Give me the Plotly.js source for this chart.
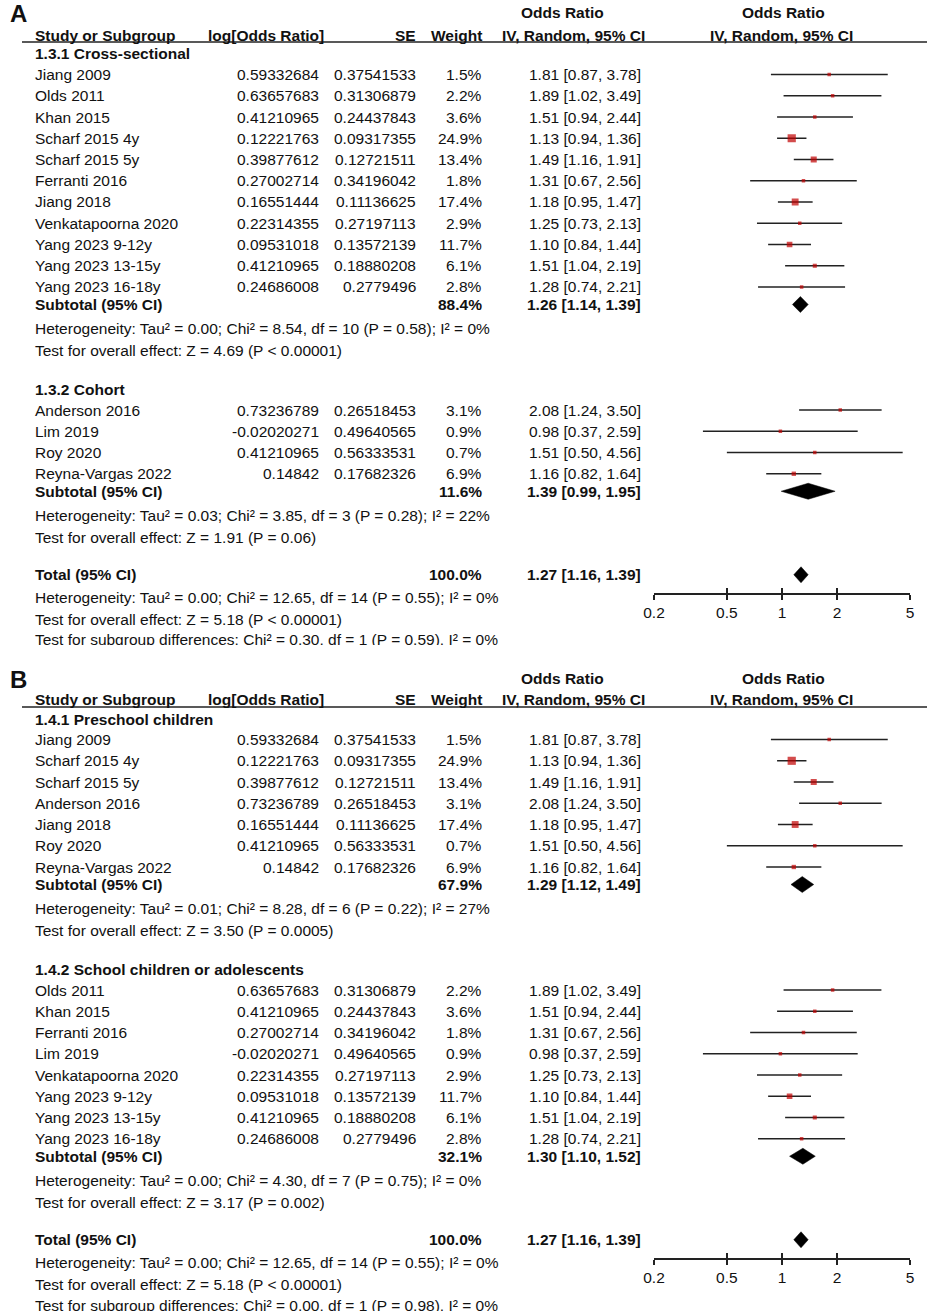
<!DOCTYPE html>
<html><head><meta charset="utf-8">
<script src="https://cdn.plot.ly/plotly-3.0.1.min.js"></script>
<style>html,body{margin:0;padding:0;background:#fff}</style>
</head><body><div id="chart" style="width:927px;height:1311px"></div>
<script>
// ================= DATA =================
// Panel A
const aLabel = "A";
const a1Title = "1.3.1 Cross-sectional";
const a1Study = ["Jiang 2009","Olds 2011","Khan 2015","Scharf 2015 4y","Scharf 2015 5y","Ferranti 2016","Jiang 2018","Venkatapoorna 2020","Yang 2023 9-12y","Yang 2023 13-15y","Yang 2023 16-18y"];
const a1LogOR = [0.59332684,0.63657683,0.41210965,0.12221763,0.39877612,0.27002714,0.16551444,0.22314355,0.09531018,0.41210965,0.24686008];
const a1SE = [0.37541533,0.31306879,0.24437843,0.09317355,0.12721511,0.34196042,0.11136625,0.27197113,0.13572139,0.18880208,0.2779496];
const a1Weight = [1.5,2.2,3.6,24.9,13.4,1.8,17.4,2.9,11.7,6.1,2.8];
const a1OR = [1.81,1.89,1.51,1.13,1.49,1.31,1.18,1.25,1.10,1.51,1.28];
const a1Lo = [0.87,1.02,0.94,0.94,1.16,0.67,0.95,0.73,0.84,1.04,0.74];
const a1Hi = [3.78,3.49,2.44,1.36,1.91,2.56,1.47,2.13,1.44,2.19,2.21];
const a1Subtotal = [88.4, 1.26, 1.14, 1.39]; // weight, OR, lower, upper
const a1Het = "Heterogeneity: Tau² = 0.00; Chi² = 8.54, df = 10 (P = 0.58); I² = 0%";
const a1Test = "Test for overall effect: Z = 4.69 (P < 0.00001)";

const a2Title = "1.3.2 Cohort";
const a2Study = ["Anderson 2016","Lim 2019","Roy 2020","Reyna-Vargas 2022"];
const a2LogOR = [0.73236789,-0.02020271,0.41210965,0.14842];
const a2SE = [0.26518453,0.49640565,0.56333531,0.17682326];
const a2Weight = [3.1,0.9,0.7,6.9];
const a2OR = [2.08,0.98,1.51,1.16];
const a2Lo = [1.24,0.37,0.50,0.82];
const a2Hi = [3.50,2.59,4.56,1.64];
const a2Subtotal = [11.6, 1.39, 0.99, 1.95];
const a2Het = "Heterogeneity: Tau² = 0.03; Chi² = 3.85, df = 3 (P = 0.28); I² = 22%";
const a2Test = "Test for overall effect: Z = 1.91 (P = 0.06)";

const aTotal = [100.0, 1.27, 1.16, 1.39];
const aTotalHet = "Heterogeneity: Tau² = 0.00; Chi² = 12.65, df = 14 (P = 0.55); I² = 0%";
const aTotalTest = "Test for overall effect: Z = 5.18 (P < 0.00001)";
const aSubgroupDiff = "Test for subgroup differences: Chi² = 0.30, df = 1 (P = 0.59), I² = 0%";

// Panel B
const bLabel = "B";
const b1Title = "1.4.1 Preschool children";
const b1Study = ["Jiang 2009","Scharf 2015 4y","Scharf 2015 5y","Anderson 2016","Jiang 2018","Roy 2020","Reyna-Vargas 2022"];
const b1LogOR = [0.59332684,0.12221763,0.39877612,0.73236789,0.16551444,0.41210965,0.14842];
const b1SE = [0.37541533,0.09317355,0.12721511,0.26518453,0.11136625,0.56333531,0.17682326];
const b1Weight = [1.5,24.9,13.4,3.1,17.4,0.7,6.9];
const b1OR = [1.81,1.13,1.49,2.08,1.18,1.51,1.16];
const b1Lo = [0.87,0.94,1.16,1.24,0.95,0.50,0.82];
const b1Hi = [3.78,1.36,1.91,3.50,1.47,4.56,1.64];
const b1Subtotal = [67.9, 1.29, 1.12, 1.49];
const b1Het = "Heterogeneity: Tau² = 0.01; Chi² = 8.28, df = 6 (P = 0.22); I² = 27%";
const b1Test = "Test for overall effect: Z = 3.50 (P = 0.0005)";

const b2Title = "1.4.2 School children or adolescents";
const b2Study = ["Olds 2011","Khan 2015","Ferranti 2016","Lim 2019","Venkatapoorna 2020","Yang 2023 9-12y","Yang 2023 13-15y","Yang 2023 16-18y"];
const b2LogOR = [0.63657683,0.41210965,0.27002714,-0.02020271,0.22314355,0.09531018,0.41210965,0.24686008];
const b2SE = [0.31306879,0.24437843,0.34196042,0.49640565,0.27197113,0.13572139,0.18880208,0.2779496];
const b2Weight = [2.2,3.6,1.8,0.9,2.9,11.7,6.1,2.8];
const b2OR = [1.89,1.51,1.31,0.98,1.25,1.10,1.51,1.28];
const b2Lo = [1.02,0.94,0.67,0.37,0.73,0.84,1.04,0.74];
const b2Hi = [3.49,2.44,2.56,2.59,2.13,1.44,2.19,2.21];
const b2Subtotal = [32.1, 1.30, 1.10, 1.52];
const b2Het = "Heterogeneity: Tau² = 0.00; Chi² = 4.30, df = 7 (P = 0.75); I² = 0%";
const b2Test = "Test for overall effect: Z = 3.17 (P = 0.002)";

const bTotal = [100.0, 1.27, 1.16, 1.39];
const bTotalHet = "Heterogeneity: Tau² = 0.00; Chi² = 12.65, df = 14 (P = 0.55); I² = 0%";
const bTotalTest = "Test for overall effect: Z = 5.18 (P < 0.00001)";
const bSubgroupDiff = "Test for subgroup differences: Chi² = 0.00, df = 1 (P = 0.98), I² = 0%";

const tickVals = [0.2, 0.5, 1, 2, 5];
const tickText = ["0.2", "0.5", "1", "2", "5"];

// ================= LAYOUT HELPERS =================
const W = 927, H = 1311;
const FONT = "Liberation Sans, Arial, sans-serif";
const FS = 15.5;
const INK = "#111";
const LINE = "#222";
const BOX = "#c00000";
const py = y => 1 - y / H;
const px = x => x / W;
const annotations = [], shapes = [], traces = [];
const fmtCI = (o, l, h) => `${o.toFixed(2)} [${l.toFixed(2)}, ${h.toFixed(2)}]`;

function txt(x, y, text, align, bold, size) {
  annotations.push({
    xref: 'paper', yref: 'paper', x: px(x), y: py(y),
    text: bold ? '<b>' + text + '</b>' : text,
    showarrow: false, xanchor: align, yanchor: 'middle',
    borderpad: 0, borderwidth: 0,
    font: { family: FONT, size: size || FS, color: INK }
  });
}

function diamond(vals, y, xa, ya) {
  const [, o, l, h] = vals;
  const hh = 8;
  traces.push({
    type: 'scatter', mode: 'lines', xaxis: xa, yaxis: ya,
    x: [l, o, h, o, l], y: [y, y - hh, y, y + hh, y],
    fill: 'toself', fillcolor: '#000', line: { color: '#000', width: 0.5 },
    hoverinfo: 'skip', showlegend: false
  });
}

function panel(cfg) {
  const o = cfg.offset;
  const xa = cfg.xa, ya = cfg.ya;
  txt(10, o + 14, cfg.label, 'left', true, 24);
  txt(562, o + 13, 'Odds Ratio', 'center', true);
  txt(783, o + 13, 'Odds Ratio', 'center', true);
  txt(35, o + 35, 'Study or Subgroup', 'left', true);
  txt(324, o + 35, 'log[Odds Ratio]', 'right', true);
  txt(416, o + 35, 'SE', 'right', true);
  txt(482, o + 35, 'Weight', 'right', true);
  txt(573, o + 35, 'IV, Random, 95% CI', 'center', true);
  txt(781, o + 35, 'IV, Random, 95% CI', 'center', true);
  shapes.push({ type: 'line', xref: 'paper', yref: 'paper', x0: px(22), x1: 1, y0: py(o + 42), y1: py(o + 42), line: { color: LINE, width: 1.5 } });

  const ciX = [], ciY = [], mX = [], mY = [], mS = [];
  const STEP = 21.25;
  let y = o + 54;
  cfg.groups.forEach((g, gi) => {
    txt(35, y, g.title, 'left', true);
    y += 20.5;
    g.study.forEach((s, i) => {
      txt(35, y, s, 'left');
      txt(319, y, String(g.logor[i]), 'right');
      txt(416, y, String(g.se[i]), 'right');
      txt(482, y, g.w[i].toFixed(1) + '%', 'right');
      txt(641, y, fmtCI(g.or[i], g.lo[i], g.hi[i]), 'right');
      ciX.push(g.lo[i], g.hi[i], null); ciY.push(y, y, null);
      mX.push(g.or[i]); mY.push(y); mS.push(Math.max(3.5, 1.65 * Math.sqrt(g.w[i])));
      if (i < g.study.length - 1) y += STEP;
    });
    y += 17.5;
    txt(35, y, 'Subtotal (95% CI)', 'left', true);
    txt(482, y, g.sub[0].toFixed(1) + '%', 'right', true);
    txt(641, y, fmtCI(g.sub[1], g.sub[2], g.sub[3]), 'right', true);
    diamond(g.sub, y, xa, ya);
    y += 24;
    txt(35, y, g.het, 'left');
    y += 22;
    txt(35, y, g.test, 'left');
    if (gi < cfg.groups.length - 1) y += 39;
  });
  y += 37.5;
  txt(35, y, 'Total (95% CI)', 'left', true);
  txt(482, y, cfg.total[0].toFixed(1) + '%', 'right', true);
  txt(641, y, fmtCI(cfg.total[1], cfg.total[2], cfg.total[3]), 'right', true);
  diamond(cfg.total, y, xa, ya);
  const axisY = y + 18.5;
  y += 23;
  txt(35, y, cfg.totalHet, 'left');
  y += 22;
  txt(35, y, cfg.totalTest, 'left');
  y += 21;
  if (cfg.clip) {
    traces.push({
      type: 'scatter', mode: 'text', xaxis: cfg.clip.xa, yaxis: cfg.clip.ya,
      x: [35], y: [y], text: [cfg.diff], textposition: 'middle right', cliponaxis: true,
      textfont: { family: FONT, size: FS, color: INK }, hoverinfo: 'skip', showlegend: false
    });
  } else {
    txt(35, y, cfg.diff, 'left');
  }

  traces.push({
    type: 'scatter', mode: 'lines', xaxis: xa, yaxis: ya, x: ciX, y: ciY,
    line: { color: LINE, width: 1.5 }, hoverinfo: 'skip', showlegend: false
  });
  traces.push({
    type: 'scatter', mode: 'markers', xaxis: xa, yaxis: ya, x: mX, y: mY,
    marker: { symbol: 'square', size: mS, color: BOX, line: { width: 0 } },
    hoverinfo: 'skip', showlegend: false
  });
  shapes.push({ type: 'line', xref: xa, yref: ya, x0: Math.log10(1), x1: Math.log10(1), y0: o + 42, y1: axisY, line: { color: LINE, width: 1.4 } });
  return { top: o + 42, axisY: axisY };
}

const pA = panel({
  offset: 0, label: aLabel, xa: 'x', ya: 'y',
  groups: [
    { title: a1Title, study: a1Study, logor: a1LogOR, se: a1SE, w: a1Weight, or: a1OR, lo: a1Lo, hi: a1Hi, sub: a1Subtotal, het: a1Het, test: a1Test },
    { title: a2Title, study: a2Study, logor: a2LogOR, se: a2SE, w: a2Weight, or: a2OR, lo: a2Lo, hi: a2Hi, sub: a2Subtotal, het: a2Het, test: a2Test }
  ],
  total: aTotal, totalHet: aTotalHet, totalTest: aTotalTest, diff: aSubgroupDiff,
  clip: { xa: 'x5', ya: 'y3' }
});
const pB = panel({
  offset: 665, label: bLabel, xa: 'x2', ya: 'y2',
  groups: [
    { title: b1Title, study: b1Study, logor: b1LogOR, se: b1SE, w: b1Weight, or: b1OR, lo: b1Lo, hi: b1Hi, sub: b1Subtotal, het: b1Het, test: b1Test },
    { title: b2Title, study: b2Study, logor: b2LogOR, se: b2SE, w: b2Weight, or: b2OR, lo: b2Lo, hi: b2Hi, sub: b2Subtotal, het: b2Het, test: b2Test }
  ],
  total: bTotal, totalHet: bTotalHet, totalTest: bTotalTest, diff: bSubgroupDiff
});

// empty traces to make overlay tick axes exist
traces.push({ type: 'scatter', x: [], y: [], xaxis: 'x3', yaxis: 'y', showlegend: false });
traces.push({ type: 'scatter', x: [], y: [], xaxis: 'x4', yaxis: 'y2', showlegend: false });

const xDomain = [654 / W, 910 / W];
const logRange = [Math.log10(0.2), Math.log10(5)];
function mainX(anchor) {
  return {
    domain: xDomain, anchor: anchor, type: 'log', range: logRange,
    showline: true, linecolor: LINE, linewidth: 1.4, mirror: false,
    ticks: 'outside', ticklen: 5, tickwidth: 1.4, tickcolor: LINE,
    tickmode: 'array', tickvals: tickVals, ticktext: tickText,
    tickfont: { family: FONT, size: FS, color: INK },
    showgrid: false, zeroline: false, fixedrange: true
  };
}
function overX(over, anchor) {
  return {
    overlaying: over, anchor: anchor, type: 'log', range: logRange,
    showline: false, ticks: 'inside', ticklen: 5, tickwidth: 1.4, tickcolor: LINE,
    tickmode: 'array', tickvals: tickVals, showticklabels: false,
    showgrid: false, zeroline: false, fixedrange: true
  };
}

const layout = {
  width: W, height: H,
  margin: { l: 0, r: 0, t: 0, b: 0, pad: 0 },
  paper_bgcolor: '#fff', plot_bgcolor: 'rgba(0,0,0,0)',
  showlegend: false,
  font: { family: FONT, size: FS, color: INK },
  xaxis: mainX('y'),
  yaxis: { domain: [py(pA.axisY), py(pA.top)], range: [pA.axisY, pA.top], visible: false, fixedrange: true },
  xaxis2: mainX('y2'),
  yaxis2: { domain: [py(pB.axisY), py(pB.top)], range: [pB.axisY, pB.top], visible: false, fixedrange: true },
  xaxis3: overX('x', 'y'),
  xaxis4: overX('x2', 'y2'),
  xaxis5: { domain: [0, 1], range: [0, W], visible: false, anchor: 'y3', fixedrange: true },
  yaxis3: { domain: [py(645), 1], range: [645, 0], visible: false, fixedrange: true },
  annotations: annotations,
  shapes: shapes
};

Plotly.newPlot('chart', traces, layout, { displayModeBar: false, staticPlot: true });
</script>
</body></html>
